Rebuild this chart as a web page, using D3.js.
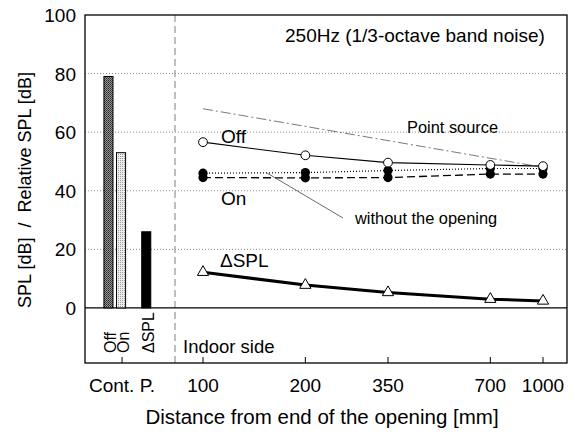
<!DOCTYPE html>
<html><head><meta charset="utf-8">
<script src="https://cdn.jsdelivr.net/npm/d3@7"></script>
<style>body{margin:0;background:#fff}svg{display:block;font-family:"Liberation Sans",Arial,sans-serif}</style>
</head><body><svg id="c" width="575" height="434"></svg>
<script>
const barCats = ["Off","On","","ΔSPL"];
const barVals = [79, 53, null, 26];
const distances = [100, 200, 350, 700, 1000];
const distLabels = ["100","200","350","700","1000"];
const offVals = [56.6, 52.1, 49.6, 48.8, 48.4];
const onVals = [44.5, 44.4, 44.5, 45.7, 45.7];
const withoutVals = [46.0, 46.2, 46.9, 47.6, 47.6];
const deltaVals = [12.2, 7.8, 5.3, 3.0, 2.4];
const pointSrcDist = [100, 1000];
const pointSrcVals = [68, 48];
const yTicks = [0, 20, 40, 60, 80, 100];
const gridTicks = [20, 40, 60, 80];

const svg = d3.select("#c");
const L = 85, R = 567, T = 15, B = 363, sepX = 175;
const y = d3.scaleLinear().domain([-18.8, 100]).range([B, T]);
const x = d3.scaleLog().domain([100, 1000]).range([203, 543]);
const xb = d3.scaleBand().domain(barCats).range([101.4, 153.3]).paddingInner(0.28).paddingOuter(0.2);

const defs = svg.append("defs");
const p1 = defs.append("pattern").attr("id","pOff").attr("width",2).attr("height",2).attr("patternUnits","userSpaceOnUse");
p1.append("rect").attr("width",2).attr("height",2).attr("fill","#999");
p1.append("rect").attr("width",1).attr("height",1).attr("fill","#222");
p1.append("rect").attr("x",1).attr("y",1).attr("width",1).attr("height",1).attr("fill","#444");
const p2 = defs.append("pattern").attr("id","pOn").attr("width",2).attr("height",2).attr("patternUnits","userSpaceOnUse");
p2.append("rect").attr("width",2).attr("height",2).attr("fill","#eee");
p2.append("rect").attr("width",1).attr("height",1).attr("fill","#999");
const fills = {"Off":"url(#pOff)","On":"url(#pOn)","ΔSPL":"#000"};

// gridlines
svg.append("g").selectAll("line").data(gridTicks).join("line")
  .attr("x1",L).attr("x2",R).attr("y1",d=>y(d)).attr("y2",d=>y(d))
  .attr("stroke","#888").attr("stroke-width",1).attr("stroke-dasharray","1,2");

// separator
svg.append("line").attr("x1",sepX).attr("x2",sepX).attr("y1",T).attr("y2",B)
  .attr("stroke","#aaa").attr("stroke-width",1.5).attr("stroke-dasharray","7,4");

// zero line
svg.append("line").attr("x1",L).attr("x2",R).attr("y1",y(0)).attr("y2",y(0))
  .attr("stroke","#000").attr("stroke-width",1.3);

// bars
svg.append("g").selectAll("rect").data(barCats.map((c,i)=>({c,v:barVals[i]})).filter(d=>d.v!=null)).join("rect")
  .attr("x",d=>xb(d.c)).attr("width",xb.bandwidth())
  .attr("y",d=>y(d.v)).attr("height",d=>y(0)-y(d.v))
  .attr("fill",d=>fills[d.c]).attr("stroke","#000").attr("stroke-width",1);

// bar labels
svg.append("g").selectAll("text").data(barCats.filter(c=>c)).join("text")
  .attr("transform",d=>`translate(${xb(d)+xb.bandwidth()/2+7.5},353) rotate(-90)`)
  .attr("font-size",16).text(d=>d);

// lines
const line = d3.line().x(d=>x(d[0])).y(d=>y(d[1]));
const zip = (a,b)=>a.map((v,i)=>[v,b[i]]);
svg.append("path").datum(zip(pointSrcDist,pointSrcVals)).attr("d",line)
  .attr("fill","none").attr("stroke","#555").attr("stroke-width",0.8).attr("stroke-dasharray","10,3,2,3");
svg.append("path").datum(zip(distances,withoutVals)).attr("d",line)
  .attr("fill","none").attr("stroke","#000").attr("stroke-width",1.2).attr("stroke-dasharray","1,2");
svg.append("path").datum(zip(distances,onVals)).attr("d",line)
  .attr("fill","none").attr("stroke","#000").attr("stroke-width",1.3).attr("stroke-dasharray","8,4");
svg.append("path").datum(zip(distances,offVals)).attr("d",line)
  .attr("fill","none").attr("stroke","#000").attr("stroke-width",1.1);
svg.append("path").datum(zip(distances,deltaVals)).attr("d",line)
  .attr("fill","none").attr("stroke","#000").attr("stroke-width",3);

// markers
svg.append("g").selectAll("circle").data(zip(distances,withoutVals)).join("circle")
  .attr("cx",d=>x(d[0])).attr("cy",d=>y(d[1])).attr("r",4.6).attr("fill","#000");
svg.append("g").selectAll("circle").data(zip(distances,onVals)).join("circle")
  .attr("cx",d=>x(d[0])).attr("cy",d=>y(d[1])).attr("r",4.6).attr("fill","#000");
svg.append("g").selectAll("circle").data(zip(distances,offVals)).join("circle")
  .attr("cx",d=>x(d[0])).attr("cy",d=>y(d[1])).attr("r",4.4).attr("fill","#fff").attr("stroke","#000").attr("stroke-width",1);
svg.append("g").selectAll("path").data(zip(distances,deltaVals)).join("path")
  .attr("d",d3.symbol(d3.symbolTriangle,55))
  .attr("transform",d=>`translate(${x(d[0])},${y(d[1])})`)
  .attr("fill","#fff").attr("stroke","#000").attr("stroke-width",1);

// frame
svg.append("rect").attr("x",L).attr("y",T).attr("width",R-L).attr("height",B-T)
  .attr("fill","none").attr("stroke","#000").attr("stroke-width",1.3);

// y ticks labels
svg.append("g").selectAll("text").data(yTicks).join("text")
  .attr("x",76).attr("y",d=>y(d)+7).attr("text-anchor","end").attr("font-size",19).text(d=>d);

// x ticks
svg.append("g").selectAll("line").data(distances).join("line")
  .attr("x1",d=>x(d)).attr("x2",d=>x(d)).attr("y1",B).attr("y2",B-6).attr("stroke","#000");
const cpX = xb("On")+xb.bandwidth()/2+1;
svg.append("line").attr("x1",cpX).attr("x2",cpX).attr("y1",B).attr("y2",B-6).attr("stroke","#000");
svg.append("g").selectAll("text").data(distances).join("text")
  .attr("x",d=>x(d)).attr("y",392).attr("text-anchor","middle").attr("font-size",19)
  .text((d,i)=>distLabels[i]);
svg.append("text").attr("x",cpX).attr("y",392).attr("text-anchor","middle").attr("font-size",19).text("Cont. P.");

// titles
svg.append("text").attr("x",322).attr("y",424).attr("text-anchor","middle").attr("font-size",20.5)
  .text("Distance from end of the opening [mm]");
svg.append("text").attr("transform","translate(31,190) rotate(-90)").attr("text-anchor","middle").attr("font-size",18)
  .attr("xml:space","preserve").text("SPL [dB]  /  Relative SPL [dB]");

// annotations
const ann = (tx,ty,s,fs)=>svg.append("text").attr("x",tx).attr("y",ty).attr("font-size",fs).text(s);
ann(285,42,"250Hz (1/3-octave band noise)",19);
ann(407,133,"Point source",16.4);
ann(221,143,"Off",19);
ann(221,205,"On",19);
ann(355,224,"without the opening",16.4);
ann(220,267,"ΔSPL",19);
ann(183,353,"Indoor side",18.5);
svg.append("line").attr("x1",343).attr("y1",218).attr("x2",267).attr("y2",173).attr("stroke","#444").attr("stroke-width",0.8);
</script></body></html>
